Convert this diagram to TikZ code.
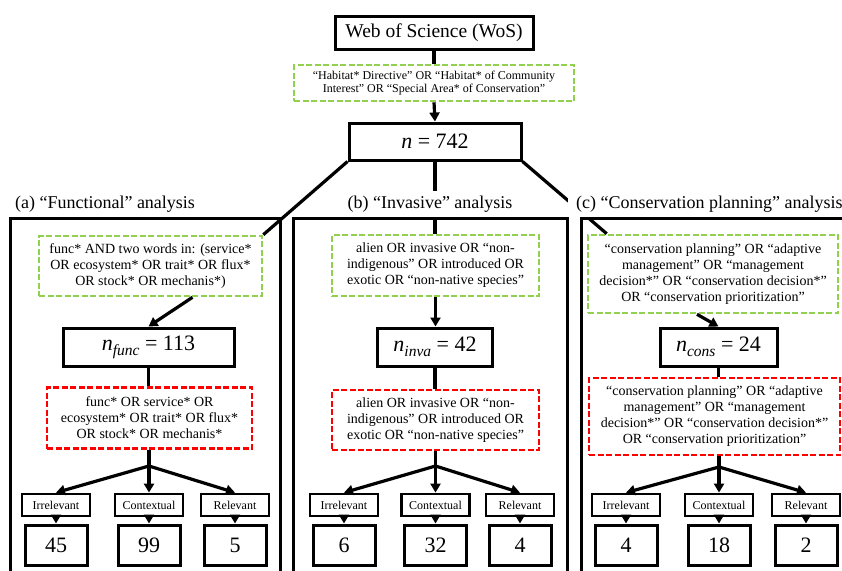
\documentclass[tikz,border=0pt]{standalone}
\usepackage{fontspec}
\setmainfont{Liberation Serif}
\usetikzlibrary{arrows.meta}
\definecolor{querygreen}{RGB}{146,208,80}
\definecolor{queryred}{RGB}{255,0,0}
\newcommand{\countsub}[1]{\raisebox{-5pt}{\fontsize{15.5}{16}\selectfont\textit{#1}}}

\begin{document}
\begin{tikzpicture}[x=1pt,y=-1pt]
          \tikzstyle{every node}+=[inner sep=0pt, align=center]
          \tikzstyle{blackbox}=[draw=black, line width=3pt]
          \tikzstyle{greenbox}=[draw=querygreen, line width=2.6pt, dash pattern=on 6pt off 2.5pt, font=\fontsize{14}{16}\selectfont]
          \tikzstyle{redbox}=[greenbox, draw=queryred]
          \tikzstyle{nbox}=[blackbox, minimum height=38pt, font=\fontsize{22}{26}\selectfont]
          \tikzstyle{tagbox}=[blackbox, line width=2.8pt, minimum width=68pt, minimum height=22pt, font=\fontsize{12}{14}\selectfont]
          \tikzstyle{countbox}=[blackbox, minimum width=62pt, minimum height=40pt, font=\fontsize{22}{26}\selectfont]
          \tikzstyle{paneltitle}=[fill=white, inner xsep=8pt, inner ysep=5pt, font=\fontsize{18}{20}\selectfont]
          \tikzstyle{panel}=[draw=black, line width=3pt]
          \tikzstyle{link}=[draw=black, line width=3.2pt]
          \tikzstyle{arrow}=[link, -{Triangle[length=9pt,width=10pt]}]
          \clip (0,0) rectangle (842,570);
          \draw (434,32.5) node [blackbox, minimum width=198pt, minimum height=33pt, font=\fontsize{19.5}{22}\selectfont] (wos) {Web of Science (WoS)};
          \draw (434,83) node [greenbox, minimum width=280pt, minimum height=36pt, font=\fontsize{12}{13.5}\selectfont] (habitat) {“Habitat* Directive” OR “Habitat* of Community\\Interest” OR “Special Area* of Conservation”};
          \draw (435,141.5) node [nbox, minimum width=172pt, minimum height=37pt] (total) {\textit{n} = 742};
          \draw (150.5,266) node [greenbox, minimum width=223pt, minimum height=60pt] (funcq) {func* AND two words in: (service*\\OR ecosystem* OR trait* OR flux*\\OR stock* OR mechanis*)};
          \draw (148.5,347) node [nbox, minimum width=171pt] (funcn) {\textit{n}\countsub{func} = 113};
          \draw (149.5,418) node [redbox, minimum width=205pt, minimum height=61pt] (funcr) {func* OR service* OR\\ecosystem* OR trait* OR flux*\\OR stock* OR mechanis*};
          \coordinate (funcsplit) at (149,466);
          \draw (56,505) node [tagbox] (funcirr) {Irrelevant};
          \draw (149,505) node [tagbox] (funccon) {Contextual};
          \draw (235,505) node [tagbox] (funcrel) {Relevant};
          \draw (56,545) node [countbox] (funcirrn) {45};
          \draw (149,545) node [countbox] (funcconn) {99};
          \draw (235,545) node [countbox] (funcreln) {5};
          \draw (435.5,265.5) node [greenbox, minimum width=207pt, minimum height=61pt] (invaq) {alien OR invasive OR “non-\\indigenous” OR introduced OR\\exotic OR “non-native species”};
          \draw (435,347) node [nbox, minimum width=115pt] (invan) {\textit{n}\countsub{inva} = 42};
          \draw (435.5,420) node [redbox, minimum width=207pt, minimum height=60pt] (invar) {alien OR invasive OR “non-\\indigenous” OR introduced OR\\exotic OR “non-native species”};
          \coordinate (invasplit) at (435.5,466);
          \draw (344,505) node [tagbox] (invairr) {Irrelevant};
          \draw (435.5,505) node [tagbox] (invacon) {Contextual};
          \draw (520,505) node [tagbox] (invarel) {Relevant};
          \draw (344,545) node [countbox] (invairrn) {6};
          \draw (435.5,545) node [countbox] (invaconn) {32};
          \draw (520,545) node [countbox] (invareln) {4};
          \draw (713,274) node [greenbox, minimum width=250pt, minimum height=78pt] (consq) {“conservation planning” OR “adaptive\\management” OR “management\\decision*” OR “conservation decision*”\\OR “conservation prioritization”};
          \draw (718.5,347) node [nbox, minimum width=117pt] (consn) {\textit{n}\countsub{cons} = 24};
          \draw (714.5,416.5) node [redbox, minimum width=251pt, minimum height=77pt] (consr) {“conservation planning” OR “adaptive\\management” OR “management\\decision*” OR “conservation decision*”\\OR “conservation prioritization”};
          \coordinate (conssplit) at (719,467);
          \draw (626,505) node [tagbox] (consirr) {Irrelevant};
          \draw (719,505) node [tagbox] (conscon) {Contextual};
          \draw (806,505) node [tagbox] (consrel) {Relevant};
          \draw (626,545) node [countbox] (consirrn) {4};
          \draw (719,545) node [countbox] (consconn) {18};
          \draw (806,545) node [countbox] (consreln) {2};
          \draw [link] (wos.south) -- (habitat.north);
          \draw [arrow] (habitat.south) -- (total.north);
          \draw [link] (total.south west) -- (funcq.north east);
          \draw [link] (total.south) -- (total.south |- invaq.north);
          \draw [link] (total.south east) -- ([xshift=20pt]consq.north west);
          \draw [arrow] ([xshift=42pt]funcq.south) -- (funcn.north);
          \draw [arrow] (invaq.south) -- (invaq.south |- invan.north);
          \draw [arrow] ([xshift=-16pt]consq.south) -- (consn.north);
          \draw [link] (funcn.south) -- (funcn.south |- funcr.north);
          \draw [link] (invan.south) -- (invan.south |- invar.north);
          \draw [link] (consn.south) -- (consn.south |- consr.north);
          \draw [link] (funcsplit |- funcr.south) -- (funcsplit);
          \draw [arrow] (funcsplit) -- (funcirr.north);
          \draw [arrow] (funcsplit) -- (funccon.north);
          \draw [arrow] (funcsplit) -- (funcrel.north);
          \draw [arrow] (funcirr.south) -- (funcirrn.north);
          \draw [arrow] (funccon.south) -- (funcconn.north);
          \draw [arrow] (funcrel.south) -- (funcreln.north);
          \draw [link] (invasplit |- invar.south) -- (invasplit);
          \draw [arrow] (invasplit) -- (invairr.north);
          \draw [arrow] (invasplit) -- (invacon.north);
          \draw [arrow] (invasplit) -- (invarel.north);
          \draw [arrow] (invairr.south) -- (invairrn.north);
          \draw [arrow] (invacon.south) -- (invaconn.north);
          \draw [arrow] (invarel.south) -- (invareln.north);
          \draw [link] (conssplit |- consr.south) -- (conssplit);
          \draw [arrow] (conssplit) -- (consirr.north);
          \draw [arrow] (conssplit) -- (conscon.north);
          \draw [arrow] (conssplit) -- (consrel.north);
          \draw [arrow] (consirr.south) -- (consirrn.north);
          \draw [arrow] (conscon.south) -- (consconn.north);
          \draw [arrow] (consrel.south) -- (consreln.north);
          \draw (105,204) node [paneltitle] (funclabel) {(a) “Functional” analysis};
          \draw (430,204) node [paneltitle] (invalabel) {(b) “Invasive” analysis};
          \draw (568,204) node [paneltitle, anchor=west] (conslabel) {(c) “Conservation planning” analysis};
          \draw [panel] (10,218) rectangle (280,590);
          \draw [panel] (293,218) rectangle (567,590);
          \draw [panel] (581,218) rectangle (870,590);
          \end{tikzpicture}
\end{document}
